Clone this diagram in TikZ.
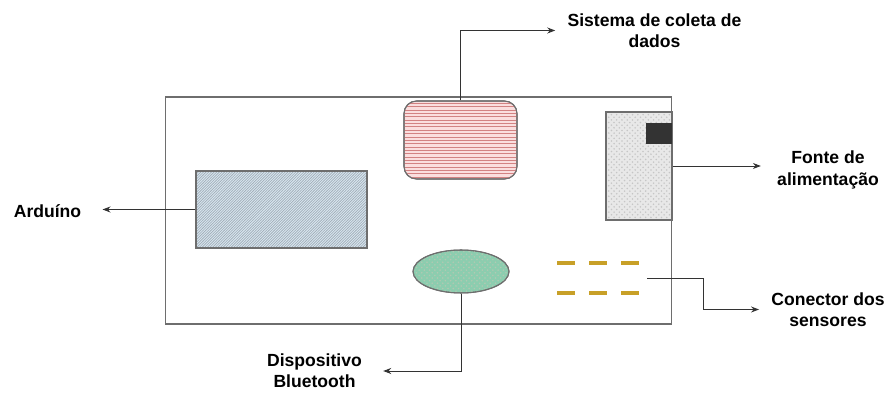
\documentclass[tikz,border=0pt]{standalone}
\usepackage{fontspec}
\setmainfont{Liberation Sans}
\usepackage{tikz}
\usetikzlibrary{arrows.meta,patterns,shapes.geometric}
\definecolor{edge}{RGB}{110,110,110}
\definecolor{coletafill}{RGB}{250,222,222}
\definecolor{arduinofill}{RGB}{216,230,240}
\definecolor{arduinolinha}{RGB}{160,172,182}
\definecolor{btfill}{RGB}{140,205,175}
\definecolor{pino}{RGB}{200,160,40}
\definecolor{linhavermelha}{RGB}{210,130,130}
% padroes mais finos
\pgfdeclarepatternformonly{linhasfinas}{\pgfqpoint{-1pt}{-1pt}}{\pgfqpoint{5pt}{1pt}}{\pgfqpoint{4pt}{1.9pt}}
{\pgfsetlinewidth{0.5pt}\pgfpathmoveto{\pgfqpoint{-1pt}{0pt}}\pgfpathlineto{\pgfqpoint{5pt}{0pt}}\pgfusepath{stroke}}
\pgfdeclarepatternformonly{diagfinas}{\pgfqpoint{-1pt}{-1pt}}{\pgfqpoint{2.5pt}{2.5pt}}{\pgfqpoint{1.5pt}{1.5pt}}
{\pgfsetlinewidth{0.35pt}\pgfpathmoveto{\pgfqpoint{0pt}{0pt}}\pgfpathlineto{\pgfqpoint{1.6pt}{1.6pt}}\pgfusepath{stroke}}

\begin{document}
\begin{tikzpicture}[x=0.02cm,y=-0.02cm,
  part/.style={draw=edge,line width=0.6pt,inner sep=0pt},
  lbl/.style={font=\bfseries\fontsize{10}{12}\selectfont,align=center,inner ysep=0pt},
  arr/.style={-{Stealth[length=1.6mm,width=1.2mm]},black!80,line width=0.5pt}]
\useasboundingbox (0,0) rectangle (889,394);
% placa
\node[part,minimum width=10.14cm,minimum height=4.54cm] (placa) at (418.5,210.5) {};
% componentes
\node[part,rounded corners=0.25cm,minimum width=2.26cm,minimum height=1.56cm,
  fill=coletafill] (coleta) at (460.5,140) {};
\node[part,rounded corners=0.25cm,minimum width=2.26cm,minimum height=1.56cm,
  pattern=linhasfinas,pattern color=linhavermelha] at (460.5,140) {};
\node[part,minimum width=1.32cm,minimum height=2.16cm,fill=gray!18] (fonte) at (639,166) {};
\node[part,minimum width=1.32cm,minimum height=2.16cm,pattern=crosshatch dots,pattern color=gray!45] at (639,166) {};
\node[inner sep=0pt,minimum width=0.52cm,minimum height=0.42cm,fill=black!80] (bateria) at (659,133.5) {};
\node[part,minimum width=3.42cm,minimum height=1.54cm,fill=arduinofill] (arduino) at (281.5,209.5) {};
\node[part,minimum width=3.42cm,minimum height=1.54cm,pattern=diagfinas,pattern color=arduinolinha] at (281.5,209.5) {};
\node[part,ellipse,minimum width=1.92cm,minimum height=0.86cm,fill=btfill] (bt) at (461,271.5) {};
\node[part,ellipse,minimum width=1.92cm,minimum height=0.86cm,pattern=crosshatch dots,pattern color=green!30!black!30] at (461,271.5) {};
% conector dos sensores
\foreach \y in {263,293}
  \foreach \x in {557,589,621}
    \draw[pino,line width=2.3pt] (\x,\y) -- ++(18,0);
\coordinate (conn) at (647,278);
\coordinate (dobra) at (703,278);
% rotulos
\node[lbl,inner xsep=0.24cm] (coletalbl) at (654.5,30.5) {Sistema de coleta de\\dados};
\node[lbl,inner xsep=0.32cm] (fontelbl) at (828,170) {Fonte de\\alimentação};
\node[lbl,inner xsep=0.24cm] (conlbl) at (828,309.5) {Conector dos\\sensores};
\node[lbl,inner xsep=0.42cm] (arduinolbl) at (47.5,211) {Arduíno};
\node[lbl,inner xsep=0.42cm] (btlbl) at (314.5,371) {Dispositivo\\Bluetooth};
% ligacoes
\draw[arr] (coleta.north) |- (coletalbl.west);
\draw[arr] (fonte.east) -- (fonte.east -| fontelbl.west);
\draw[arr] (arduino.west) -- (arduino.west -| arduinolbl.east);
\draw[arr] (bt.south) |- (btlbl.east);
\draw[arr] (conn) -- (dobra) |- (conlbl.west);
\end{tikzpicture}
\end{document}
